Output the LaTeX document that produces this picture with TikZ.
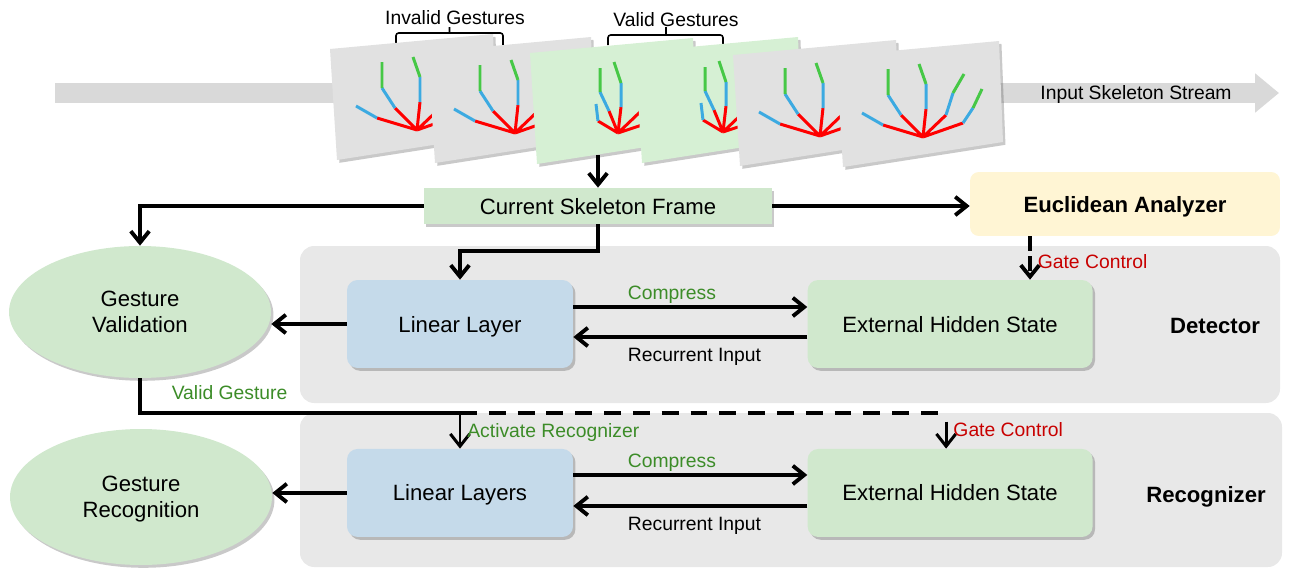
\documentclass[tikz,border=0pt]{standalone}
\usepackage{fontspec}
\setmainfont{Liberation Sans}
\usetikzlibrary{shapes,arrows.meta,positioning,calc,shadows}

\definecolor{streamgray}{RGB}{217,217,217}
\definecolor{framegray}{RGB}{225,225,225}
\definecolor{framegreen}{RGB}{214,240,212}
\definecolor{panelgray}{RGB}{232,232,232}
\definecolor{boxgreen}{RGB}{208,232,205}
\definecolor{layerblue}{RGB}{197,218,234}
\definecolor{analyzeryellow}{RGB}{255,245,212}
\definecolor{notegreen}{RGB}{60,140,40}
\definecolor{gatered}{RGB}{200,0,0}
\definecolor{bonered}{RGB}{255,0,0}
\definecolor{boneblue}{RGB}{60,170,225}
\definecolor{bonegreen}{RGB}{70,200,70}

\newcommand{\labelsize}{\fontsize{12.6}{14.7}\selectfont}
\newcommand{\notesize}{\fontsize{11}{13}\selectfont}

% hand skeletons, in frame coordinates
\newcommand{\openhand}{%
  \draw [bone, bonered] (87,81) -- (47,69) (87,81) -- (65,59) (87,81) -- (90,53) (87,81) -- (110,59) (87,81) -- (127,67);
  \draw [bone, boneblue] (47,69) -- (26,57) (65,59) -- (52,39) (90,53) -- (90,28) (110,59) -- (117,37) (127,67) -- (137,52);
  \draw [bone, bonegreen] (52,39) -- (52,13) (90,28) -- (83,8) (117,37) -- (128,18) (137,52) -- (146,33);
}
\newcommand{\foldhand}{%
  \draw [bone, bonered] (88,80) -- (68,68) (88,80) -- (79,58) (88,80) -- (91,54) (88,80) -- (110,59) (88,80) -- (127,67);
  \draw [bone, boneblue] (68,68) -- (66,51) (79,58) -- (70,39) (91,54) -- (91,30) (110,59) -- (117,37) (127,67) -- (137,52);
  \draw [bone, bonegreen] (70,39) -- (70,15) (91,30) -- (84,9) (117,37) -- (128,18) (137,52) -- (146,33);
}

\begin{document}
\begin{tikzpicture}[x=0.02cm, y=-0.02cm, node distance=3.38cm, every node/.style={text depth=0pt}]
\tikzstyle{softshadow} = [drop shadow={shadow xshift=1.4pt, shadow yshift=-1.6pt, opacity=0.3, fill=black!70}]
\tikzstyle{input} = [rectangle, fill=boxgreen, minimum width=6.96cm, minimum height=0.72cm, font=\labelsize, softshadow]
\tikzstyle{analyzer} = [rectangle, fill=analyzeryellow, rounded corners=5pt, minimum width=6.2cm, minimum height=1.28cm, font=\labelsize\bfseries]
\tikzstyle{layer} = [rectangle, fill=layerblue, rounded corners=6pt, minimum width=4.52cm, minimum height=1.76cm, font=\labelsize, softshadow]
\tikzstyle{state} = [rectangle, fill=boxgreen, rounded corners=6pt, minimum width=5.7cm, minimum height=1.76cm, font=\labelsize, softshadow]
\tikzstyle{decision} = [ellipse, fill=boxgreen, minimum width=5.24cm, minimum height=2.64cm, align=center, font=\labelsize, softshadow]
\tikzstyle{panel} = [fill=panelgray, rounded corners=8pt]
\tikzstyle{note} = [font=\notesize]
\tikzstyle{bone} = [line width=1.7pt]
\tikzstyle{brace} = [line width=0.9pt, rounded corners=1.5pt]
\tikzstyle{stream} = [draw=streamgray, line width=11.3pt, -{Triangle[length=13.6pt, width=21.5pt]}]
\tikzstyle{arrow} = [line width=2.2pt, -{Straight Barb[length=6.5pt, width=10.5pt]}]
\tikzstyle{thinarrow} = [line width=1.7pt, -{Straight Barb[length=7pt, width=11pt]}]
\tikzstyle{link} = [line width=2.2pt]
\tikzstyle{dashline} = [line width=2.2pt, dash pattern=on 9.6pt off 6.8pt]
\tikzstyle{dasharrow} = [arrow, dash pattern=on 8.5pt off 2.8pt]

\useasboundingbox (0,0) rectangle (1295,568);

% input stream
\coordinate (streamstart) at (55,93);
\coordinate (streamend) at (1279,93);
\draw [stream] (streamstart) -- (streamend);
\node [note] (streamlabel) at (1136,92) {Input Skeleton Stream};

\node [note] (invalid) at (455,17) {Invalid Gestures};
\node [note] (validg) at (676,19) {Valid Gestures};
\draw [brace] (396,45) -- (396,33) -- (503,33) -- (503,45) (449.5,33) -- (449.5,27);
\draw [brace] (608,45) -- (608,35) -- (723,35) -- (723,45) (666,35) -- (666,27);

% skeleton frames
\foreach \fx/\fy/\fc/\hand in {330/49/framegray/\openhand, 428/52/framegray/\openhand, 530/53/framegreen/\foldhand, 635/52/framegreen/\foldhand, 733/55/framegray/\openhand, 836/56/framegray/\openhand}
{
  \begin{scope}[shift={(\fx,\fy)}]
    \fill [fill=\fc, softshadow] (0,0) -- (163,-15) -- (167,86) -- (7,111) -- cycle;
    \hand
  \end{scope}
}

% stage panels
\fill [panel] (300,246) rectangle (1280,403);
\fill [panel] (300,413) rectangle (1282,567);

\node [input] (current) at (598,206) {Current Skeleton Frame};
\node [analyzer] (euclid) at (1125,204) {Euclidean Analyzer};
\node [decision] (valid) at (140,312) {Gesture\\Validation};
\node [decision, minimum height=2.72cm] (recog) at (141,497) {Gesture\\Recognition};

\node [layer] (lin) at (460,324) {Linear Layer};
\node [state, right=4.68cm of lin] (hid) {External Hidden State};
\node [layer, below of=lin] (lins) {Linear Layers};
\node [state, below of=hid] (hid2) {External Hidden State};

\node [font=\labelsize\bfseries] (detlabel) at (1215,326) {Detector};
\node [font=\labelsize\bfseries] (reclabel) at (1206,494) {Recognizer};

\coordinate (f3) at (598,155);
\coordinate (gate) at ([xshift=-1.9cm]euclid.south);
\coordinate (turn) at ([yshift=0.72cm]lins.north);
\coordinate (gate2) at ([xshift=-0.08cm]turn -| hid2.north);

\draw [arrow] (f3) -- (current);
\draw [arrow] (current.east) -- (current.east -| euclid.west);
\draw [arrow] (current.west) -| (valid.north);
\draw [arrow] (current.south) -- ++(0,27) -| (lin.north);

% detector
\draw [arrow] (lin.west) -- (lin.west -| valid.east);
\draw [arrow] ([yshift=0.34cm]lin.east) -- node [pos=0.2, above right, note, text=notegreen] {Compress} ([yshift=0.34cm]hid.west);
\draw [arrow] ([yshift=-0.26cm]hid.west) -- node [pos=0.8, below right, yshift=-0.07cm, note] {Recurrent Input} ([yshift=-0.26cm]lin.east);
\draw [dasharrow] (gate) -- (gate |- hid.north) node [midway, right, yshift=-0.06cm, note, text=gatered] {Gate Control};

% recognizer
\draw [link] (valid.south) |- node [pos=0.64, above, yshift=0.1cm, note, text=notegreen] {Valid Gesture} (turn);
\draw [thinarrow] (turn) -- node [right, note, text=notegreen] {Activate Recognizer} (lins.north);
\draw [dashline] (turn) -- (gate2);
\draw [thinarrow] ([yshift=-0.18cm]gate2) -- node [pos=0.3, right, note, text=gatered] {Gate Control} (gate2 |- hid2.north);
\draw [arrow] (lins.west) -- (lins.west -| recog.east);
\draw [arrow] ([yshift=0.36cm]lins.east) -- node [pos=0.2, above right, note, text=notegreen] {Compress} ([yshift=0.36cm]hid2.west);
\draw [arrow] ([yshift=-0.26cm]hid2.west) -- node [pos=0.8, below right, yshift=-0.07cm, note] {Recurrent Input} ([yshift=-0.26cm]lins.east);
\end{tikzpicture}
\end{document}
